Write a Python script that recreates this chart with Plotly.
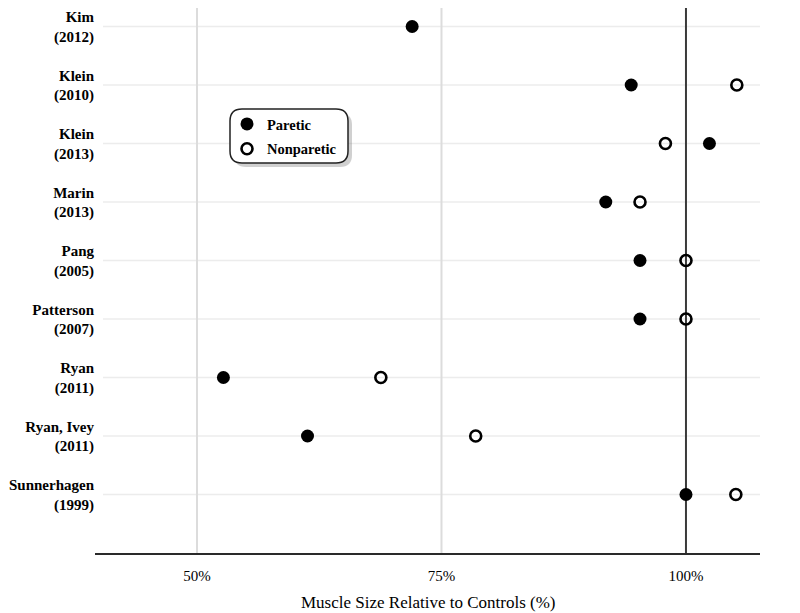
import plotly.graph_objects as go

studies = ["Kim", "Klein", "Klein", "Marin", "Pang", "Patterson", "Ryan", "Ryan, Ivey", "Sunnerhagen"]
years = ["(2012)", "(2010)", "(2013)", "(2013)", "(2005)", "(2007)", "(2011)", "(2011)", "(1999)"]
paretic = [72.0, 94.4, 102.4, 91.8, 95.3, 95.3, 52.7, 61.3, 100.0]
nonparetic = [None, 105.2, 97.9, 95.3, 100.0, 100.0, 68.8, 78.5, 105.1]
xtick_vals = [50, 75, 100]
xtick_text = ["50%", "75%", "100%"]

rows = list(range(len(studies)))
labels = [f"{s}<br>{y}" for s, y in zip(studies, years)]
FONT = "Liberation Serif"

# page body has an 8px margin; figure is sized to fit within the 800x613 window
W, H = 792, 605
L, R, T, B = 87, 40, 0, 60
PW, PH = W - L - R, H - T - B
ROW_PX = (553 - 26.5) / 9  # pixel spacing between study rows

fig = go.Figure()
fig.add_trace(go.Scatter(
    x=paretic, y=rows, mode="markers", name="Paretic", legendgroup="p",
    marker=dict(symbol="circle", size=13, color="black", line=dict(width=0)),
))
fig.add_trace(go.Scatter(
    x=nonparetic, y=rows, mode="markers", name="Nonparetic", legendgroup="n",
    marker=dict(symbol="circle-open", size=11, color="black", line=dict(width=2.6)),
))

shapes = []
for r in rows:
    shapes.append(dict(type="line", xref="paper", yref="y", x0=8 / PW, x1=1, y0=r, y1=r,
                       line=dict(color="#ececec", width=1.5), layer="below"))
for v in [50, 75]:
    shapes.append(dict(type="line", xref="x", yref="paper", x0=v, x1=v, y0=0, y1=1,
                       line=dict(color="#dcdcdc", width=2), layer="below"))
shapes.append(dict(type="line", xref="x", yref="paper", x0=100, x1=100, y0=0, y1=1,
                   line=dict(color="#3a3a3a", width=2), layer="below"))


def rrect(x0, y0, x1, y1, rx, ry):
    return (f"M {x0+rx},{y1} L {x1-rx},{y1} Q {x1},{y1} {x1},{y1-ry} "
            f"L {x1},{y0+ry} Q {x1},{y0} {x1-rx},{y0} L {x0+rx},{y0} "
            f"Q {x0},{y0} {x0},{y0+ry} L {x0},{y1-ry} Q {x0},{y1} {x0+rx},{y1} Z")


def px_x(sx):  # screen x -> paper
    return (sx - 8 - L) / PW


def px_y(sy):  # screen y -> paper
    return 1 - (sy - 8 - T) / PH


bx0, bx1, by0, by1 = px_x(230), px_x(348), px_y(163), px_y(109)
rx, ry = 12 / PW, 12 / PH
dx, dy = 4 / PW, 4 / PH
shapes.append(dict(type="path", xref="paper", yref="paper",
                   path=rrect(bx0 + dx, by0 - dy, bx1 + dx, by1 - dy, rx, ry),
                   fillcolor="rgba(120,120,120,0.35)", line=dict(width=0), layer="above"))
shapes.append(dict(type="path", xref="paper", yref="paper",
                   path=rrect(bx0, by0, bx1, by1, rx, ry),
                   fillcolor="white", line=dict(color="#222", width=1.5), layer="above"))

fig.update_layout(
    width=W, height=H,
    margin=dict(l=L, r=R, t=T, b=B),
    paper_bgcolor="white", plot_bgcolor="white",
    font=dict(family=FONT, color="black"),
    shapes=shapes,
    showlegend=True,
    legend=dict(x=px_x(227), y=px_y(108), xanchor="left", yanchor="top",
                bgcolor="rgba(0,0,0,0)", borderwidth=0,
                font=dict(family=FONT, size=14.5, color="black", weight="bold"),
                itemwidth=30, tracegroupgap=3),
    xaxis=dict(range=[39.57, 107.57], tickvals=xtick_vals, ticktext=xtick_text,
               showgrid=False, zeroline=False, showline=True, linecolor="#2a2a2a",
               linewidth=2, ticks="", ticklabelstandoff=8, automargin=False,
               tickfont=dict(family=FONT, size=15, color="black")),
    yaxis=dict(range=[9, 9 - PH / ROW_PX], tickvals=rows, ticktext=labels,
               showgrid=False, zeroline=False, showline=False, ticks="",
               ticklabeloverflow="allow", automargin=False,
               tickfont=dict(family=FONT, size=15, color="black", weight="bold")),
    annotations=[dict(text="Muscle Size Relative to Controls (%)", xref="paper", yref="paper",
                      x=0.5, y=px_y(602), xanchor="center", yanchor="middle",
                      showarrow=False, font=dict(family=FONT, size=17, color="black"))],
)

fig.write_html("out.html")
